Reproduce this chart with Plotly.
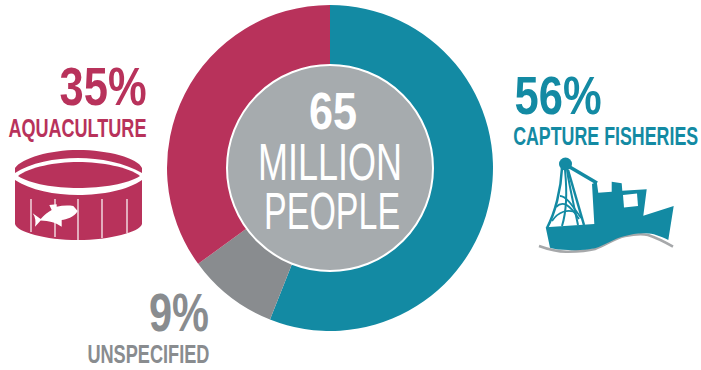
import plotly.graph_objects as go

# Employment by sector
sectors = ["Capture fisheries", "Unspecified", "Aquaculture"]
shares = [56, 9, 35]
colors = ["#138aa3", "#898c8f", "#b8325b"]

W, H = 701, 370
TEAL, GREY, RED = colors
CENTRE_FILL = "#a6abae"
SANS = "Liberation Sans Narrow, Arial Narrow, Liberation Sans, sans-serif"

fig = go.Figure(
    go.Pie(
        labels=sectors,
        values=shares,
        sort=False,
        direction="clockwise",
        rotation=0,
        hole=0.63,
        textinfo="none",
        hoverinfo="label+percent",
        marker=dict(colors=colors, line=dict(width=0)),
        domain=dict(x=[167 / W, 493 / W], y=[1 - 331 / H, 1 - 5 / H]),
        showlegend=False,
    )
)

shapes = []


def add_path(path, fill="rgba(0,0,0,0)", line=None, width=0):
    shapes.append(
        dict(
            type="path", xref="x", yref="y", path=path, fillcolor=fill,
            line=dict(color=line or "rgba(0,0,0,0)", width=width), layer="above",
        )
    )


def add_ellipse(x0, y0, x1, y1, fill, line=None, width=0):
    shapes.append(
        dict(
            type="circle", xref="x", yref="y", x0=x0, y0=y0, x1=x1, y1=y1, fillcolor=fill,
            line=dict(color=line or "rgba(0,0,0,0)", width=width), layer="above",
        )
    )


def add_line(x0, y0, x1, y1, color, width):
    shapes.append(
        dict(
            type="line", xref="x", yref="y", x0=x0, y0=y0, x1=x1, y1=y1,
            line=dict(color=color, width=width), layer="above",
        )
    )


# Central disc
add_ellipse(227, 65, 433, 271, CENTRE_FILL, "white", 2)

# Fish tank icon: rim, water surface, wall
add_path("M15,173 L15,168 C22,158 50,150 78,150 C108,150 138,158 142,168 L142,173 C125,163 100,158 78,158 C55,158 30,163 15,173 Z", RED)
add_path("M18,176 C30,167 55,162 78,162 C102,162 128,167 140,176 C128,184 102,188 78,188 C55,188 30,184 18,176 Z", RED)
add_path("M15,180 C30,190 55,195 78,195 C102,195 128,190 142,180 L142,224 C140,232 110,240 78,240 C45,240 17,232 15,224 Z", RED)
for x, y_end in ((31, 232), (55, 237), (78, 240), (102, 238), (127, 233)):
    add_line(x, 199, x, y_end, "white", 1.2)
add_path(
    "M32.7,213.3 L40.7,219 C44,215 48,212 51.7,210 L49.3,205 L56.7,204.3 L56.7,206.7 "
    "C62,205.5 68,205.3 73.3,206 L77.7,211 C76,214 73,216.5 70,217.7 "
    "C67,219 64,219.5 61.7,220 L61.7,226.7 L57,224 C53,222 50,221.5 46.7,221 L40.7,220.5 L35,226.7 "
    "C36,222 35.5,217 32.7,213.3 Z",
    "white",
)

# Trawler icon: sea line, hull and wheelhouse, window, rigging
add_path("M539,246 C550,250 560,252 568,251.7 C578,251.5 587,251 595,249 C606,245 615,238 625,236 C635,234 642,233.5 648,235 C657,238 665,242 673,246.7", line="#a6a8aa", width=2.5)
add_path(
    "M545.7,227.3 L594.3,224 L592,184 L596.7,181.7 L598.3,192.7 L611.7,191.7 L611.7,181.7 "
    "L621.7,183.3 L622.3,190.7 L646.7,189.3 L643.3,215.7 L673.7,206 L668.3,240 "
    "C660,236 652,233 645,233.3 C638,233 631,234.5 625,236 C615,238 605,245 595,248.3 "
    "C587,250 577,250.5 568.3,250 C561,250 555,249 550,247.7 Z",
    TEAL,
)
add_path("M623,195 L637,193.5 L638,206 L624,207.5 Z", "white")
add_ellipse(559, 157.5, 572, 170.5, TEAL)
add_line(568, 166, 597, 183, TEAL, 3.5)
add_path("M562,168 C561,190 555,213 547,228", line=TEAL, width=2.5)
add_path("M565,170 C567,190 567,210 562,226", line=TEAL, width=2)
add_path("M567,170 C570,190 575,210 578,225", line=TEAL, width=2)
add_path("M568,170 L584,225", line=TEAL, width=2.5)
add_path("M552,221 C558,212 568,208 577,213", line=TEAL, width=1.8)
add_path("M556,207 C563,200 570,205 579,219", line=TEAL, width=1.8)
add_path("M560,196 C566,196 572,205 581,218", line=TEAL, width=1.8)

# label text, x, centre y, size, colour, bold, drawn width, anchor
labels = [
    (f"{shares[2]}%", 103, 86, 54, RED, True, 87, "center"),
    ("AQUACULTURE", 77, 128, 26, RED, True, 138, "center"),
    (f"{shares[0]}%", 557.5, 95, 54, TEAL, True, 87, "center"),
    ("CAPTURE FISHERIES", 700, 136, 26, TEAL, True, 185, "right"),
    (f"{shares[1]}%", 179, 312, 54, GREY, True, 60, "center"),
    ("UNSPECIFIED", 148, 354, 26, GREY, True, 122, "center"),
    ("65", 333, 111, 52, "white", True, 48, "center"),
    ("MILLION", 330, 161.5, 52, "white", False, 144, "center"),
    ("PEOPLE", 332, 211, 52, "white", False, 136, "center"),
]

annotations = [
    dict(
        text=f"<b>{t}</b>" if bold else t, x=x, y=y, xref="x", yref="y", showarrow=False,
        xanchor=anchor, align=anchor, yanchor="middle", font=dict(family=SANS, size=size, color=col),
    )
    for t, x, y, size, col, bold, _, anchor in labels
]

fig.update_layout(
    width=W, height=H,
    margin=dict(l=0, r=0, t=0, b=0),
    paper_bgcolor="white", plot_bgcolor="rgba(0,0,0,0)",
    xaxis=dict(range=[0, W], visible=False, fixedrange=True),
    yaxis=dict(range=[H, 0], visible=False, fixedrange=True),
    shapes=shapes, annotations=annotations,
)

# The labels are set in a condensed cut: fit each one to its column width
widths = {row[0]: row[6] for row in labels}
fit_text = """
var widths = %s;
document.querySelectorAll('.annotation-text').forEach(function (el) {
  var w = widths[el.textContent];
  if (w) { el.setAttribute('textLength', w); el.setAttribute('lengthAdjust', 'spacingAndGlyphs'); }
});
""" % str(widths).replace("'", '"')

fig.write_html("out.html", config={"displayModeBar": False}, post_script=fit_text)
